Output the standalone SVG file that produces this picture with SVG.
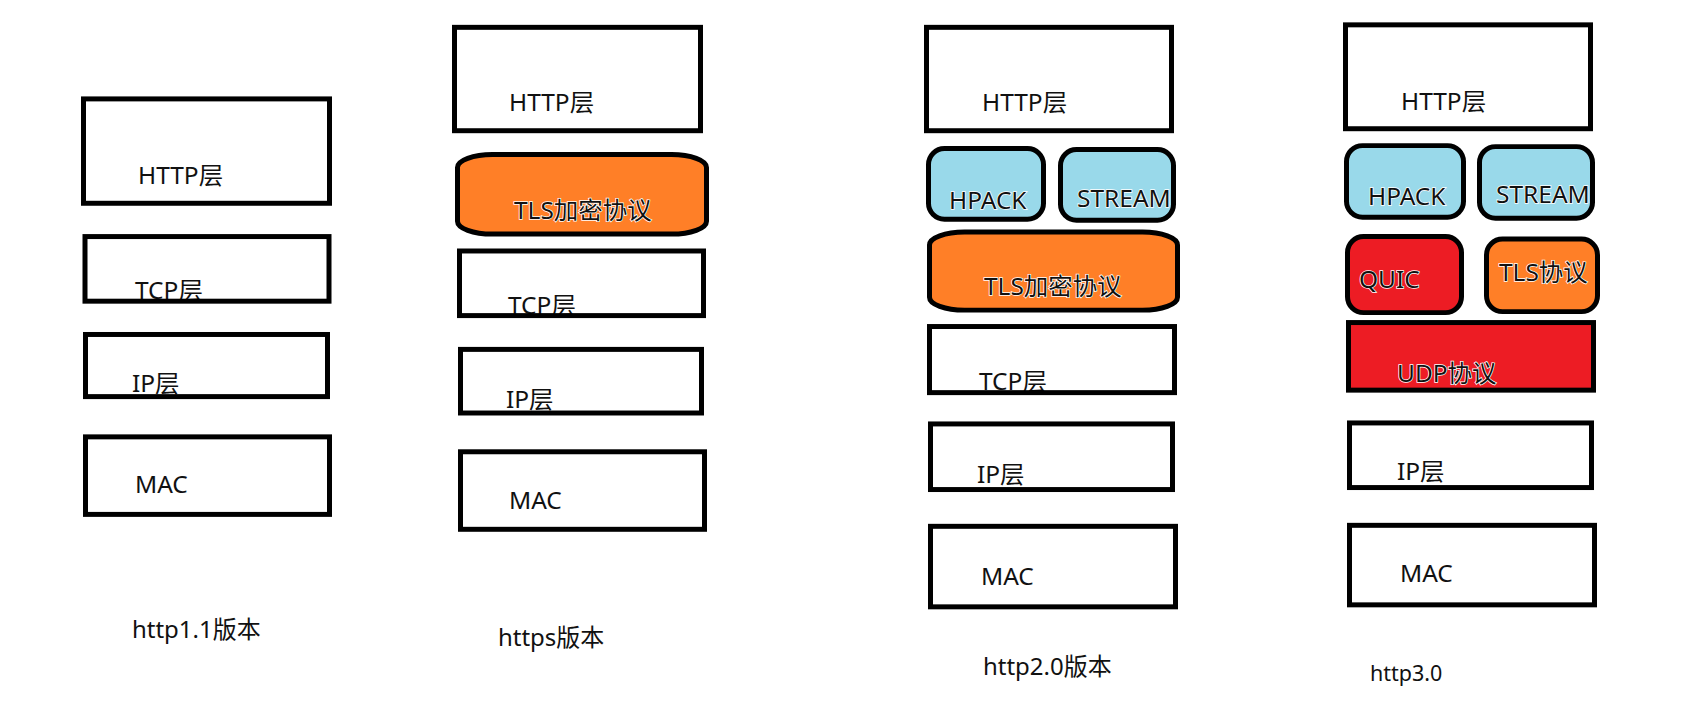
<svg xmlns="http://www.w3.org/2000/svg" width="1683" height="704" viewBox="0 0 1683 704">
<style>
.box{fill:none;stroke:#000;stroke-width:5}
.blue{fill:#99D9EA}
.orange{fill:#FF7F27}
.red{fill:#ED1C24}
.t{font-family:"Noto Sans","Noto Sans CJK SC",sans-serif;font-size:24.5px;fill:#111}
.h{stroke:#fff;stroke-width:1.5;paint-order:stroke}
.lbl{font-family:"Noto Sans","Noto Sans CJK SC",sans-serif;font-size:24px;fill:#111}
</style>
<rect x="0" y="0" width="1683" height="704" fill="#fff"/>
<g id="connectors"></g>
<g id="diagram" transform="scale(1,0.994)">

<!-- Column 1: http1.1 -->
<g id="c1-http"><text class="t" x="138" y="185">HTTP层</text><rect class="box" x="83.5" y="99.5" width="246" height="105"/></g>
<g id="c1-tcp"><text class="t" x="135" y="301">TCP层</text><rect class="box" x="85" y="238" width="244" height="65"/></g>
<g id="c1-ip"><text class="t" x="132" y="394">IP层</text><rect class="box" x="85.5" y="336.5" width="242" height="62.5"/></g>
<g id="c1-mac"><text class="t" x="135" y="496">MAC</text><rect class="box" x="85.5" y="439.5" width="244" height="78"/></g>
<g id="c1-label"><text class="lbl" x="132" y="642">http1.1版本</text></g>

<!-- Column 2: https -->
<g id="c2-http"><text class="t" x="509" y="112">HTTP层</text><rect class="box" x="454.5" y="27.5" width="246" height="104"/></g>
<g id="c2-tls"><rect class="orange" x="457.5" y="155.5" width="249" height="80" rx="35" ry="13"/><text class="t h" x="514" y="220">TLS加密协议</text><rect class="box" x="457.5" y="155.5" width="249" height="80" rx="35" ry="13"/></g>
<g id="c2-tcp"><text class="t" x="508" y="316">TCP层</text><rect class="box" x="459.5" y="252.5" width="244" height="65"/></g>
<g id="c2-ip"><text class="t" x="506" y="410">IP层</text><rect class="box" x="460.5" y="351.5" width="241" height="64"/></g>
<g id="c2-mac"><text class="t" x="509" y="512">MAC</text><rect class="box" x="460.5" y="454.5" width="244" height="78"/></g>
<g id="c2-label"><text class="lbl" x="498" y="650">https版本</text></g>

<!-- Column 3: http2.0 -->
<g id="c3-http"><text class="t" x="982" y="112">HTTP层</text><rect class="box" x="926.5" y="27.5" width="245" height="104"/></g>
<g id="c3-hpack"><rect class="blue" x="928.5" y="149.5" width="115" height="71" rx="16"/><text class="t h" x="949" y="210">HPACK</text><rect class="box" x="928.5" y="149.5" width="115" height="71" rx="16"/></g>
<g id="c3-stream"><rect class="blue" x="1060.5" y="150.5" width="113" height="71" rx="16"/><text class="t h" x="1077" y="208.5">STREAM</text><rect class="box" x="1060.5" y="150.5" width="113" height="71" rx="16"/></g>
<g id="c3-tls"><rect class="orange" x="929.5" y="233.5" width="248" height="78.5" rx="35" ry="13"/><text class="t h" x="984" y="297">TLS加密协议</text><rect class="box" x="929.5" y="233.5" width="248" height="78.5" rx="35" ry="13"/></g>
<g id="c3-tcp"><text class="t" x="979" y="392">TCP层</text><rect class="box" x="929.5" y="328.5" width="245" height="66.5"/></g>
<g id="c3-ip"><text class="t" x="977" y="486">IP层</text><rect class="box" x="930.5" y="426.5" width="242" height="66"/></g>
<g id="c3-mac"><text class="t" x="981" y="589">MAC</text><rect class="box" x="930.5" y="529.5" width="245" height="81"/></g>
<g id="c3-label"><text class="lbl" x="983" y="679">http2.0版本</text></g>

<!-- Column 4: http3.0 -->
<g id="c4-http"><text class="t" x="1401" y="110.5">HTTP层</text><rect class="box" x="1345.5" y="25" width="245" height="104.5"/></g>
<g id="c4-hpack"><rect class="blue" x="1346.5" y="146.5" width="117" height="72" rx="16"/><text class="t h" x="1368" y="206">HPACK</text><rect class="box" x="1346.5" y="146.5" width="117" height="72" rx="16"/></g>
<g id="c4-stream"><rect class="blue" x="1479.5" y="147.5" width="113" height="72" rx="16"/><text class="t h" x="1496" y="204">STREAM</text><rect class="box" x="1479.5" y="147.5" width="113" height="72" rx="16"/></g>
<g id="c4-quic"><rect class="red" x="1347.5" y="238" width="114" height="76.5" rx="16"/><text class="t h" x="1359" y="290">QUIC</text><rect class="box" x="1347.5" y="238" width="114" height="76.5" rx="16"/></g>
<g id="c4-tls"><rect class="orange" x="1486.5" y="240.5" width="111" height="73" rx="16"/><text class="t h" x="1499" y="283">TLS协议</text><rect class="box" x="1486.5" y="240.5" width="111" height="73" rx="16"/></g>
<g id="c4-udp"><rect class="red" x="1348.5" y="324.5" width="245" height="68"/><text class="t h" x="1397" y="384">UDP协议</text><rect class="box" x="1348.5" y="324.5" width="245" height="68"/></g>
<g id="c4-ip"><text class="t" x="1397" y="483">IP层</text><rect class="box" x="1349.5" y="425.5" width="242" height="65"/></g>
<g id="c4-mac"><text class="t" x="1400" y="586">MAC</text><rect class="box" x="1349.5" y="528.5" width="245" height="80"/></g>
<g id="c4-label"><text class="lbl" x="1370" y="685" style="font-size:21.5px">http3.0</text></g>
</g>
</svg>
